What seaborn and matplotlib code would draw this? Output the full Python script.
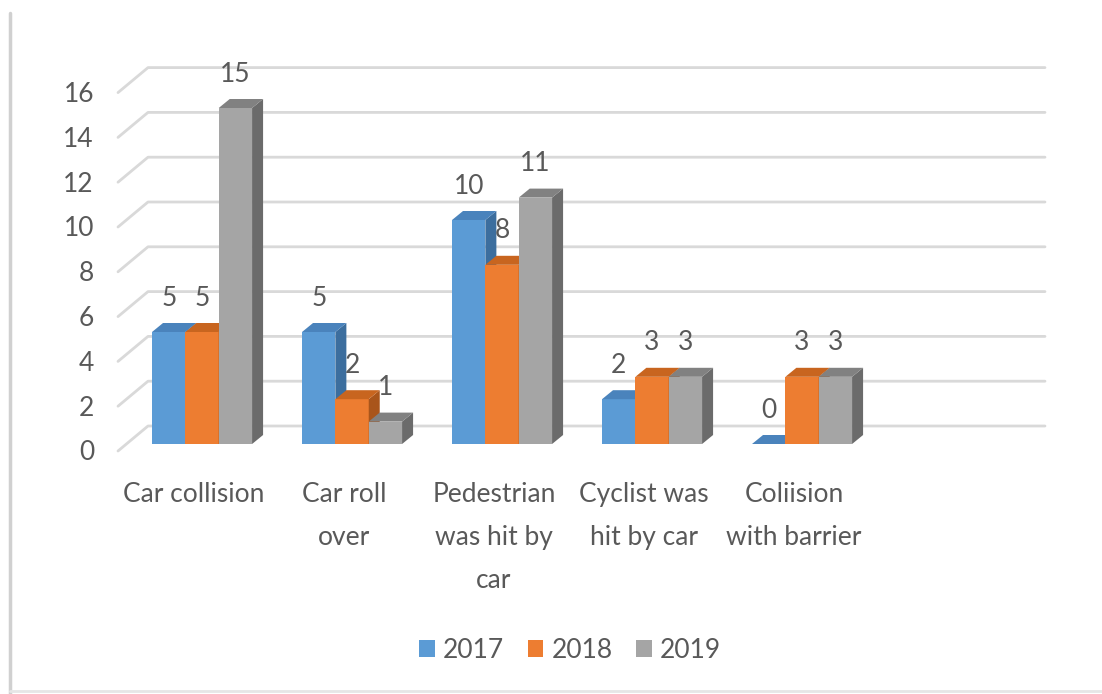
import numpy as np
import pandas as pd
import matplotlib
matplotlib.use("Agg")
import matplotlib.pyplot as plt
import seaborn as sns
from matplotlib.patches import Polygon
from matplotlib.transforms import IdentityTransform
from matplotlib.lines import Line2D

# ---- data ----
categories = ["Car collision", "Car roll\nover", "Pedestrian\nwas hit by\ncar",
              "Cyclist was\nhit by car", "Coliision\nwith barrier"]
years = ["2017", "2018", "2019"]
v2017 = [5, 5, 10, 2, 0]
v2018 = [5, 2, 8, 3, 3]
v2019 = [15, 1, 11, 3, 3]
yticks = [0, 2, 4, 6, 8, 10, 12, 14, 16]

front_colors = ["#5B9BD5", "#ED7D31", "#A5A5A5"]
top_colors = ["#4A83BC", "#C8651F", "#818181"]
side_colors = ["#3C6E9E", "#A9551B", "#6B6B6B"]

df = pd.DataFrame({
    "category": categories * 3,
    "year": np.repeat(years, len(categories)),
    "value": v2017 + v2018 + v2019,
})

sns.set_theme(style="white")
plt.rcParams['font.family'] = ['Lato', 'DejaVu Sans']
TXT = "#595959"
FS = 19

W, H = 1102, 694
fig = plt.figure(figsize=(W / 100, H / 100), dpi=100)
ax_left_px, ax_right_px = 126, 1023
ax_bot_px, ax_top_px = 444, 85.6
ax = fig.add_axes([ax_left_px / W, (H - ax_bot_px) / H,
                   (ax_right_px - ax_left_px) / W, (ax_bot_px - ax_top_px) / H])

sns.barplot(data=df, x="category", y="value", hue="year", palette=front_colors,
            width=0.667, saturation=1, ax=ax, linewidth=0)
ax.set_xlim(-0.507, 5.473)
ax.set_ylim(0, 16)
for s in ax.spines.values():
    s.set_visible(False)
ax.set_xticks([])
ax.set_yticks([])
ax.set_xlabel("")
ax.set_ylabel("")
handles, labels = ax.get_legend_handles_labels()
if ax.get_legend():
    ax.get_legend().remove()

ident = IdentityTransform()
# 3D geometry offsets (pixels, y up)
FRONT_DX, FRONT_DY = -8, -7
BACK_DX, BACK_DY = 22, 18
BAR_DX, BAR_DY = 11, 9

# gridlines on back wall + diagonal floor segments
xl_disp = ax.transAxes.transform((0, 0))[0]
xr_disp = ax.transAxes.transform((1, 0))[0]
for v in yticks:
    yd = ax.transData.transform((0, v))[1]
    ax.add_line(Line2D([xl_disp + FRONT_DX, xl_disp + BACK_DX, xr_disp + BACK_DX],
                       [yd + FRONT_DY, yd + BACK_DY, yd + BACK_DY],
                       transform=ident, color="#D9D9D9", lw=2, zorder=0.5,
                       clip_on=False))
    ax.text(xl_disp + FRONT_DX - 24, yd + FRONT_DY - 2, f"{v}", transform=ident,
            ha="right", va="center", fontsize=FS, color=TXT)

# category labels
for i, c in enumerate(categories):
    xd = ax.transData.transform((i, 0))[0]
    y0 = ax.transData.transform((0, 0))[1]
    ax.text(xd + FRONT_DX, y0 - 38, c, transform=ident, ha="center", va="top",
            fontsize=FS, color=TXT, linespacing=1.9)

# 3D faces and value labels
for k, cont in enumerate(ax.containers):
    z = 2 + k
    for rect in cont:
        rect.set_zorder(z)
        x0 = rect.get_x()
        x1 = x0 + rect.get_width()
        h = rect.get_height()
        X0, Y0 = ax.transData.transform((x0, 0))
        X1, Yh = ax.transData.transform((x1, h))
        top = Polygon([(X0, Yh), (X1, Yh), (X1 + BAR_DX, Yh + BAR_DY), (X0 + BAR_DX, Yh + BAR_DY)],
                      closed=True, transform=ident, facecolor=top_colors[k],
                      edgecolor="none", zorder=z)
        side = Polygon([(X1, Y0), (X1, Yh), (X1 + BAR_DX, Yh + BAR_DY), (X1 + BAR_DX, Y0 + BAR_DY)],
                       closed=True, transform=ident, facecolor=side_colors[k],
                       edgecolor="none", zorder=z)
        ax.add_patch(side)
        ax.add_patch(top)
        ax.text((X0 + X1) / 2, Yh + 34, f"{h:g}", transform=ident, ha="center",
                va="center", fontsize=FS, color=TXT, zorder=10)

fig.legend(handles, labels, loc="center", bbox_to_anchor=(570 / W, (H - 650) / H),
           ncol=3, frameon=False, fontsize=FS, handlelength=0.6, handleheight=0.6,
           handletextpad=0.3, columnspacing=0.9, labelcolor=TXT)

fig.add_artist(Line2D([10 / W, 10 / W], [0, (H - 13) / H], transform=fig.transFigure,
                      color="#D0D0D0", lw=2.5))
fig.add_artist(Line2D([10 / W, 1], [3 / H, 3 / H], transform=fig.transFigure,
                      color="#E6E6E6", lw=2))

fig.savefig("out.png", dpi=100)
